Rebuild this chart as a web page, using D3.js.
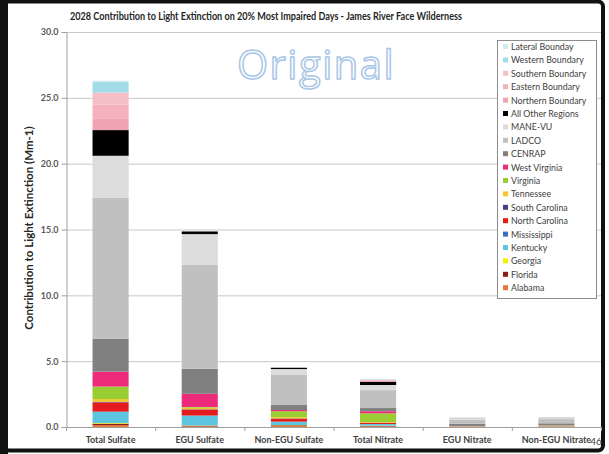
<!DOCTYPE html>
<html><head><meta charset="utf-8">
<script src="https://cdn.jsdelivr.net/npm/d3@7"></script>
<style>body{margin:0;background:#fff;}svg{display:block;font-family:Lato,"DejaVu Sans",sans-serif;}</style>
</head><body>
<svg id="c" width="609" height="454"></svg>
<script>
const categories = ["Total Sulfate","EGU Sulfate","Non-EGU Sulfate","Total Nitrate","EGU Nitrate","Non-EGU Nitrate"];
const seriesNames = ["Alabama","Florida","Georgia","Kentucky","Mississippi","North Carolina","South Carolina","Tennessee","Virginia","West Virginia","CENRAP","LADCO","MANE-VU","All Other Regions","Northern Boundary","Eastern Boundary","Southern Boundary","Western Boundary","Lateral Bounday"];
const seriesColors = ["#e07b39","#8b1a1a","#f2f200","#5cc6e0","#3a6fc4","#e41a1c","#4b3f8c","#f5c827","#9acd32","#ee2a7b","#808080","#c0c0c0","#dcdcdc","#000000","#f0a3b2","#f4b2be","#f6bfc8","#a3dbe8","#d3e9f0"];
// values per series, one per category
const Alabama        = [0.15,0.05,0.08,0.05,0.01,0.01];
const Florida        = [0.10,0.05,0.05,0.03,0.00,0.01];
const Georgia        = [0.05,0.02,0.02,0.02,0.00,0.00];
const Kentucky       = [0.85,0.75,0.25,0.12,0.01,0.02];
const Mississippi    = [0.02,0.00,0.01,0.01,0.00,0.00];
const NorthCarolina  = [0.70,0.45,0.20,0.08,0.01,0.01];
const SouthCarolina  = [0.05,0.03,0.04,0.02,0.00,0.01];
const Tennessee      = [0.20,0.12,0.10,0.05,0.01,0.02];
const Virginia       = [0.95,0.05,0.45,0.66,0.02,0.04];
const WestVirginia   = [1.13,1.00,0.09,0.16,0.02,0.02];
const CENRAP         = [2.50,1.90,0.38,0.24,0.16,0.14];
const LADCO          = [10.7,7.90,2.28,1.36,0.32,0.32];
const MANEVU         = [3.20,2.33,0.45,0.39,0.12,0.10];
const AllOther       = [1.95,0.20,0.10,0.25,0.01,0.01];
const Northern       = [0.85,0,0,0.06,0,0];
const Eastern        = [1.10,0,0,0.06,0,0];
const Southern       = [0.90,0,0,0.04,0,0];
const Western        = [0.80,0,0,0.03,0,0];
const Lateral        = [0.10,0,0,0.02,0,0];
const seriesValues = [Alabama,Florida,Georgia,Kentucky,Mississippi,NorthCarolina,SouthCarolina,Tennessee,Virginia,WestVirginia,CENRAP,LADCO,MANEVU,AllOther,Northern,Eastern,Southern,Western,Lateral];
const yTicks = [0,5,10,15,20,25,30];

const svg = d3.select("#c");
const m = {l:66, r:601, t:32, b:427};

// frame
svg.append("rect").attr("x",4).attr("y",1.5).attr("width",599).attr("height",449)
  .attr("rx",5).attr("fill","#fff").attr("stroke","#111").attr("stroke-width",4);
svg.append("rect").attr("x",0).attr("y",0).attr("width",8).attr("height",454).attr("fill","#111");

const table = categories.map((c,i)=>{const o={cat:c}; seriesNames.forEach((s,j)=>o[s]=seriesValues[j][i]); return o;});
const stack = d3.stack().keys(seriesNames)(table);

const x = d3.scaleBand().domain(categories).range([m.l,m.r]).paddingInner(0.595).paddingOuter(0.2975);
const y = d3.scaleLinear().domain([0,30]).range([m.b,m.t]);
const color = d3.scaleOrdinal().domain(seriesNames).range(seriesColors);

// grid
svg.append("g").selectAll("line").data(yTicks.slice(1)).join("line")
  .attr("x1",m.l).attr("x2",m.r).attr("y1",d=>y(d)+0.5).attr("y2",d=>y(d)+0.5)
  .attr("stroke","#c8c8c8").attr("stroke-width",1);

// y axis
const ya = svg.append("g").attr("transform",`translate(${m.l+0.5},0)`)
  .call(d3.axisLeft(y).tickValues(yTicks).tickFormat(d3.format(".1f")).tickSize(5).tickPadding(3));
ya.select(".domain").attr("stroke","#a0a0a0");
ya.selectAll(".tick line").attr("stroke","#a0a0a0");
ya.selectAll("text").attr("font-size","9px").attr("font-weight","bold").attr("fill","#595959").attr("font-family","Lato");

// bars
svg.append("g").selectAll("g").data(stack).join("g").attr("fill",d=>color(d.key))
  .selectAll("rect").data(d=>d).join("rect")
  .attr("x",d=>x(d.data.cat)).attr("width",x.bandwidth())
  .attr("y",d=>y(d[1])).attr("height",d=>Math.max(0,y(d[0])-y(d[1])));

// x axis
svg.append("line").attr("x1",m.l).attr("x2",m.r).attr("y1",m.b+0.5).attr("y2",m.b+0.5).attr("stroke","#a0a0a0");
const step = x.step();
svg.append("g").selectAll("line").data(d3.range(categories.length+1)).join("line")
  .attr("x1",i=>m.l+i*step+0.5).attr("x2",i=>m.l+i*step+0.5).attr("y1",m.b).attr("y2",m.b+4).attr("stroke","#a0a0a0");
svg.append("g").selectAll("text").data(categories).join("text")
  .attr("x",d=>x(d)+x.bandwidth()/2).attr("y",443).attr("text-anchor","middle")
  .attr("font-size","9px").attr("font-weight","bold").attr("fill","#404040").text(d=>d);

// y label
svg.append("text").attr("transform","translate(33,228) rotate(-90)").attr("text-anchor","middle")
  .attr("font-size","11.5px").attr("font-weight","bold").attr("fill","#262626")
  .text("Contribution to Light Extinction (Mm-1)");

// title
svg.append("text").attr("x",266).attr("y",20).attr("text-anchor","middle")
  .attr("font-size","10.5px").attr("font-weight","bold").attr("fill","#262626")
  .attr("textLength",392).attr("lengthAdjust","spacingAndGlyphs")
  .text("2028 Contribution to Light Extinction on 20% Most Impaired Days - James River Face Wilderness");

// watermark
svg.append("text").attr("x",316).attr("y",79).attr("text-anchor","middle")
  .attr("font-size","40px").attr("font-family","Open Sans, sans-serif").attr("letter-spacing","1.5px")
  .attr("fill","#fff").attr("stroke","#a9c6e6").attr("stroke-width",1.5).text("Original");

// legend
const lg = svg.append("g");
lg.append("rect").attr("x",497.5).attr("y",40.5).attr("width",99).attr("height",258)
  .attr("fill","#fff").attr("stroke","#8c8c8c");
const legendItems = seriesNames.slice().reverse();
const li = lg.selectAll("g").data(legendItems).join("g")
  .attr("transform",(d,i)=>`translate(503,${47+i*13.4})`);
li.append("rect").attr("x",0).attr("y",-3).attr("width",5).attr("height",5).attr("fill",d=>color(d));
li.append("text").attr("x",8).attr("y",3).attr("font-size","8.8px").attr("fill","#404040").text(d=>d);

// page number
svg.append("text").attr("x",596).attr("y",445).attr("text-anchor","middle").attr("font-size","10px").attr("fill","#404040").text("46");
</script>
</body></html>
